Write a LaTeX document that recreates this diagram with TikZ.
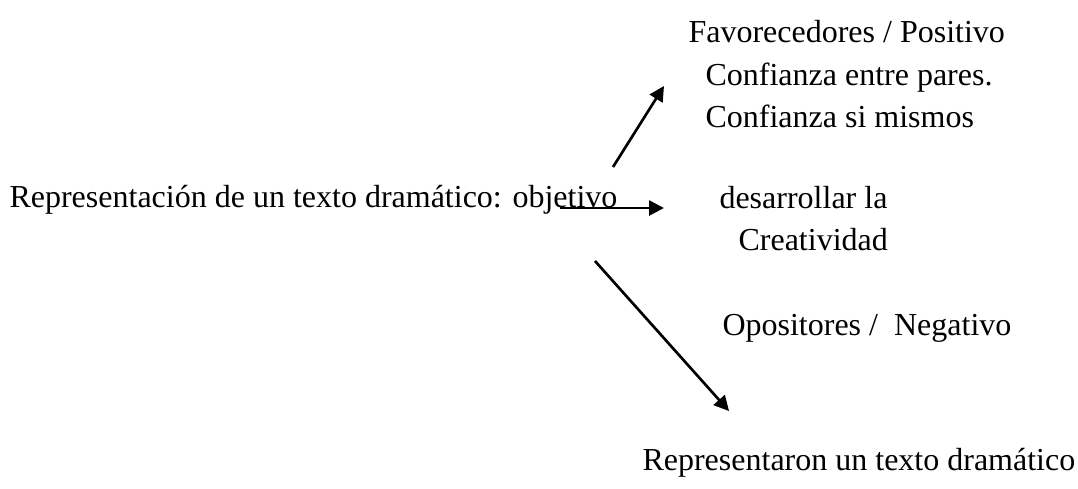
\documentclass[tikz,border=0pt]{standalone}
\usepackage{fontspec}
\setmainfont{Liberation Serif}
\usetikzlibrary{arrows.meta}
\begin{document}
\begin{tikzpicture}[x=0.375pt,y=-0.375pt,
  txt/.style={inner sep=0pt, anchor=base west, font=\fontsize{12pt}{14pt}\selectfont},
  arr/.style={line width=1pt, -{Triangle[length=5.6pt,width=5.6pt]}}]
\useasboundingbox (0,0) rectangle (1078,488);
\node[txt] (main) at (9,207) {Representación de un texto dramático: objetivo};
\node[txt] (fav) at (688,42) {Favorecedores / Positivo};
\node[txt] (conf1) at (705,85) {Confianza entre pares.};
\node[txt] (conf2) at (705,127) {Confianza si mismos};
\node[txt] (des) at (719,208) {desarrollar la};
\node[txt] (crea) at (738,250) {Creatividad};
\node[txt] (opo) at (722,335) {Opositores /\ \ Negativo};
\node[txt] (rep) at (642,470) {Representaron un texto dramático};
\coordinate (a1s) at (613,167);
\coordinate (a1e) at (664,86);
\coordinate (a2s) at (560,208);
\coordinate (a2e) at (664,208);
\coordinate (a3s) at (595,261);
\coordinate (a3e) at (729,411);
\draw[arr] (a1s) -- (a1e);
\draw[arr] (a2s) -- (a2e);
\draw[arr] (a3s) -- (a3e);
\end{tikzpicture}
\end{document}
